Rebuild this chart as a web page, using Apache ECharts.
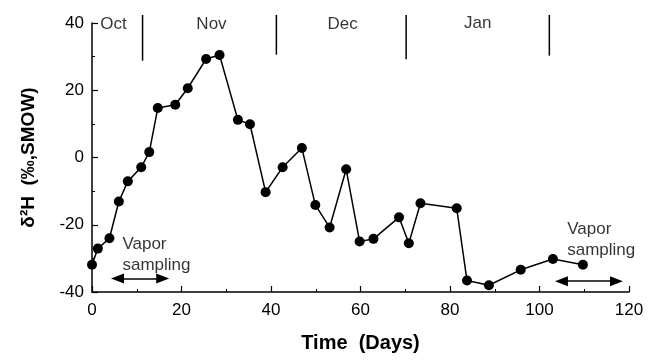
<!DOCTYPE html>
<html>
<head>
<meta charset="utf-8">
<script src="https://cdn.jsdelivr.net/npm/echarts@6/dist/echarts.min.js"></script>
<style>
  html, body { margin: 0; padding: 0; background: #fff; }
  #main { width: 656px; height: 360px; }
</style>
</head>
<body>
<div id="main"></div>
<script>
// time in days and deuterium values
var days = [0, 1.3, 3.9, 6.0, 8.0, 11.0, 12.8, 14.7, 18.6, 21.4, 25.5, 28.5, 32.6, 35.3, 38.8,
    42.6, 46.9, 49.9, 53.1, 56.8, 59.8, 62.9, 68.6, 70.8, 73.4, 81.5, 83.8, 88.7, 95.8, 103.0, 109.7];
var d2H = [-31.9, -27.1, -24.0, -13.1, -7.1, -2.9, 1.6, 14.7, 15.7, 20.6, 29.3, 30.5, 11.2, 9.9, -10.3,
    -2.9, 2.8, -14.1, -20.8, -3.5, -25.0, -24.2, -17.8, -25.5, -13.6, -15.1, -36.6, -38.0, -33.4, -30.2, -31.9];

var xTicks = [0, 20, 40, 60, 80, 100, 120];
var yTicks = [-40, -20, 0, 20, 40];

// month boundaries and labels along the top
var monthNames = ['Oct', 'Nov', 'Dec', 'Jan'];
var monthLabelDays = [4.8, 26.7, 56.0, 86.2];
var monthLabelY = [39.6, 39.6, 39.6, 39.8];
var monthBounds = [11.3, 41.2, 70.2, 102.2];
var boundTop = [42.4, 42.4, 42.4, 42.4];
var boundBottom = [28.8, 30.6, 29.2, 30.3];

// vapor sampling notes: text anchor and arrow span
var noteText = ['Vapor\nsampling', 'Vapor\nsampling'];
var noteX = [6.8, 106.2];
var noteY = [-29.0, -24.6];
var arrowFrom = [5.7, 104.9];
var arrowTo = [15.8, 117.2];
var arrowY = [-36.0, -36.8];

var font = 'Liberation Sans, Arial, Helvetica, sans-serif';

var myChart = echarts.init(document.getElementById('main'));

var pts = days.map(function (d, i) { return [d, d2H[i]]; });

var monthData = monthNames.map(function (m, i) { return [monthLabelDays[i], monthLabelY[i], m]; });
var noteData = noteText.map(function (t, i) { return [noteX[i], noteY[i], t]; });
var boundData = monthBounds.map(function (b, i) { return [b, boundTop[i], boundBottom[i]]; });
var arrowLines = arrowFrom.map(function (a, i) {
    return [{ coord: [a, arrowY[i]] }, { coord: [arrowTo[i], arrowY[i]] }];
});

myChart.setOption({
    backgroundColor: '#ffffff',
    animation: false,
    grid: { left: 92, right: 27, top: 23, bottom: 68 },
    xAxis: {
        type: 'value',
        min: xTicks[0],
        max: xTicks[xTicks.length - 1],
        interval: 20,
        name: 'Time  (Days)',
        nameLocation: 'middle',
        nameGap: 41,
        nameTextStyle: { fontFamily: font, fontSize: 20, fontWeight: 'bold', color: '#000' },
        axisLine: { onZero: false, lineStyle: { color: '#000', width: 1.5 } },
        axisTick: { inside: true, length: 6, lineStyle: { color: '#000', width: 1.2 } },
        minorTick: { show: true, splitNumber: 2, length: 3, lineStyle: { color: '#000', width: 1 } },
        axisLabel: { fontFamily: font, fontSize: 17, color: '#000', margin: 10 },
        splitLine: { show: false }
    },
    yAxis: {
        type: 'value',
        min: yTicks[0],
        max: yTicks[yTicks.length - 1],
        interval: 20,
        name: 'δ²H  (‰,SMOW)',
        nameLocation: 'middle',
        nameGap: 54,
        nameTextStyle: { fontFamily: font, fontSize: 19, fontWeight: 'bold', color: '#000' },
        axisLine: { onZero: false, lineStyle: { color: '#000', width: 1.5 } },
        axisTick: { inside: true, length: 6, lineStyle: { color: '#000', width: 1.2 } },
        minorTick: { show: true, splitNumber: 2, length: 3, lineStyle: { color: '#000', width: 1 } },
        axisLabel: { fontFamily: font, fontSize: 17, color: '#000', margin: 8 },
        splitLine: { show: false }
    },
    series: [{
        type: 'line',
        data: pts,
        symbol: 'circle',
        symbolSize: 10,
        lineStyle: { color: '#000', width: 1.5 },
        itemStyle: { color: '#000' },
        z: 3
    }, {
        // month separators, drawn past the top of the plot
        type: 'custom',
        data: boundData,
        clip: false,
        silent: true,
        renderItem: function (params, api) {
            var p1 = api.coord([api.value(0), api.value(1)]);
            var p2 = api.coord([api.value(0), api.value(2)]);
            return {
                type: 'line',
                shape: { x1: p1[0], y1: p1[1], x2: p2[0], y2: p2[1] },
                style: { stroke: '#000', lineWidth: 1.5 }
            };
        }
    }, {
        type: 'scatter',
        data: monthData,
        symbolSize: 0,
        silent: true,
        label: {
            show: true,
            position: 'inside',
            formatter: function (p) { return p.value[2]; },
            fontFamily: font, fontSize: 17, color: '#000'
        }
    }, {
        type: 'scatter',
        data: noteData,
        symbolSize: 0,
        silent: true,
        label: {
            show: true,
            position: 'right',
            distance: 0,
            lineHeight: 21,
            formatter: function (p) { return p.value[2]; },
            fontFamily: font, fontSize: 17, color: '#000'
        },
        markLine: {
            silent: true,
            symbol: ['triangle', 'triangle'],
            symbolSize: [10, 13],
            label: { show: false },
            lineStyle: { color: '#000', width: 1.5, type: 'solid' },
            data: arrowLines
        }
    }]
});
</script>
</body>
</html>
